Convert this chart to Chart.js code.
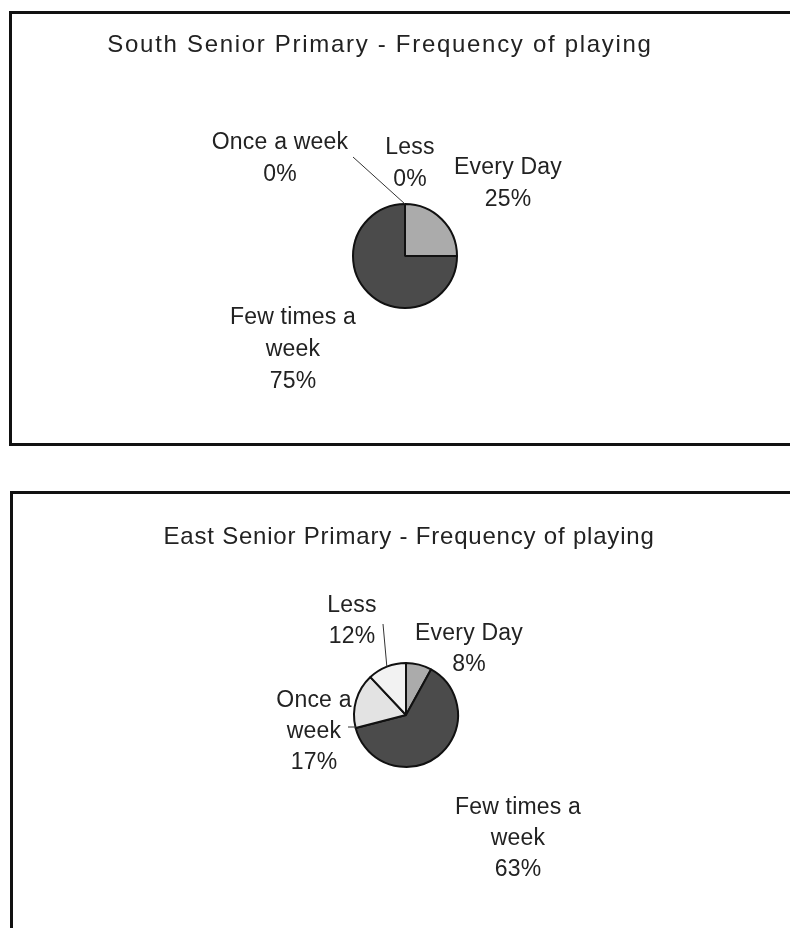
<!DOCTYPE html>
<html>
<head>
<meta charset="utf-8">
<script src="https://cdn.jsdelivr.net/npm/chart.js@4.4.1/dist/chart.umd.min.js"></script>
<style>
    body { margin: 0; background: #fff; width: 790px; height: 928px; overflow: hidden; position: relative; }
    .panel { position: absolute; box-sizing: border-box; border: 3px solid #111; }
    canvas { position: absolute; left: 0; }
</style>
</head>
<body>
<div class="panel" style="left:9px;top:11px;width:800px;height:435px"></div>
<div class="panel" style="left:10px;top:491px;width:800px;height:500px"></div>
<canvas id="chart-south" width="790" height="470" style="top:0"></canvas>
<canvas id="chart-east" width="790" height="458" style="top:470px"></canvas>
<script>
const categories = ['Every Day', 'Few times a week', 'Once a week', 'Less'];
const southValues = [25, 75, 0, 0];
const eastValues = [8, 63, 17, 12];
const southTitle = 'South Senior Primary - Frequency of playing';
const eastTitle = 'East Senior Primary - Frequency of playing';
const sliceColors = ['#ababab', '#4b4b4b', '#e3e3e3', '#f2f2f2'];

// how each category name wraps in the label, per chart
const southWrap = [['Every Day'], ['Few times a', 'week'], ['Once a week'], ['Less']];
const eastWrap = [['Every Day'], ['Few times a', 'week'], ['Once a', 'week'], ['Less']];

document.addEventListener('DOMContentLoaded', function() {
    const FONT = '"Liberation Sans", Arial, sans-serif';

    function labelPlugin(spec) {
        return {
            id: 'pieLabels',
            afterDatasetsDraw(chart) {
                const ctx = chart.ctx;
                const meta = chart.getDatasetMeta(0);
                const values = chart.data.datasets[0].data;
                const cx = meta.data[0].x;
                const cy = meta.data[0].y;
                ctx.save();
                ctx.fillStyle = '#222';
                ctx.textAlign = 'center';
                ctx.textBaseline = 'middle';
                ctx.font = '24px ' + FONT;
                ctx.letterSpacing = spec.titleSpacing;
                ctx.fillText(spec.title, spec.titleX, spec.titleY);

                ctx.strokeStyle = '#333';
                ctx.lineWidth = 1;
                spec.labels.forEach((lab, i) => {
                    const arc = meta.data[i];
                    if (lab.leader) {
                        let ex, ey;
                        if (lab.leader.to) {
                            ex = cx + lab.leader.to[0];
                            ey = cy + lab.leader.to[1];
                        } else {
                            const a = lab.leader.at === 'start' ? arc.startAngle : (arc.startAngle + arc.endAngle) / 2;
                            ex = cx + arc.outerRadius * Math.cos(a);
                            ey = cy + arc.outerRadius * Math.sin(a);
                        }
                        ctx.beginPath();
                        ctx.moveTo(cx + lab.leader.from[0], cy + lab.leader.from[1]);
                        ctx.lineTo(ex, ey);
                        ctx.stroke();
                    }
                });

                ctx.font = '23px ' + FONT;
                ctx.letterSpacing = '0.2px';
                spec.labels.forEach((lab, i) => {
                    const lines = spec.wrap[i].concat([values[i] + '%']);
                    lines.forEach((t, k) => {
                        ctx.fillText(t, cx + lab.dx, cy + lab.dy + k * spec.lineHeight);
                    });
                });
                ctx.restore();
            }
        };
    }

    function renderPie(id, values, padding, spec) {
        const ctx = document.getElementById(id).getContext('2d');
        new Chart(ctx, {
            type: 'pie',
            data: {
                labels: categories,
                datasets: [{
                    data: values,
                    backgroundColor: sliceColors,
                    borderColor: '#111',
                    borderWidth: 2,
                    radius: 52
                }]
            },
            options: {
                responsive: false,
                animation: false,
                devicePixelRatio: 1,
                layout: { padding: padding },
                plugins: {
                    legend: { display: false },
                    tooltip: { enabled: false },
                    title: { display: false }
                }
            },
            plugins: [labelPlugin(spec)]
        });
    }

    renderPie('chart-south', southValues,
        { left: 300, right: 280, top: 150, bottom: 108 },
        {
            title: southTitle, titleX: 380, titleY: 45, titleSpacing: '1.7px', wrap: southWrap, lineHeight: 32,
            labels: [
                { dx: 103, dy: -88 },
                { dx: -112, dy: 62 },
                { dx: -125, dy: -113, leader: { from: [-52, -99], at: 'start' } },
                { dx: 5, dy: -108 }
            ]
        });

    renderPie('chart-east', eastValues,
        { left: 302, right: 280, top: 150, bottom: 118 },
        {
            title: eastTitle, titleX: 409, titleY: 67, titleSpacing: '0.8px', wrap: eastWrap, lineHeight: 31,
            labels: [
                { dx: 63, dy: -81 },
                { dx: 112, dy: 93 },
                { dx: -92, dy: -14, leader: { from: [-58, 12], to: [-50, 12] } },
                { dx: -54, dy: -109, leader: { from: [-23, -91] } }
            ]
        });
});
</script>
</body>
</html>
